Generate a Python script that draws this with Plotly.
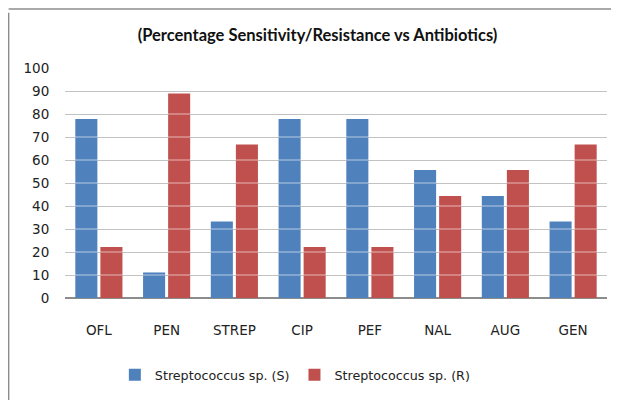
import plotly.graph_objects as go

CATEGORIES = ["OFL", "PEN", "STREP", "CIP", "PEF", "NAL", "AUG", "GEN"]
SENSITIVE = [77.8, 11.1, 33.3, 77.8, 77.8, 55.6, 44.4, 33.3]
RESISTANT = [22.2, 88.9, 66.7, 22.2, 22.2, 44.4, 55.6, 66.7]
Y_TICKS = list(range(0, 101, 10))

BLUE = "#4F81BD"
RED = "#C0504D"
FONT = "'DejaVu Sans', sans-serif"

fig = go.Figure()
fig.add_trace(go.Bar(x=CATEGORIES, y=SENSITIVE, name="Streptococcus sp. (S)",
                     marker=dict(color=BLUE, line_width=0)))
fig.add_trace(go.Bar(x=CATEGORIES, y=RESISTANT, name="Streptococcus sp. (R)",
                     marker=dict(color=RED, line_width=0)))

# gridlines show faintly through the bars in the original
for v in Y_TICKS[1:-1]:
    fig.add_shape(type="line", xref="paper", x0=0, x1=1, y0=v, y1=v,
                  line=dict(color="rgba(255,255,255,0.6)", width=1), layer="above")

# page border (top and left edges), kept just inside the figure
fig.add_shape(type="line", xref="paper", yref="paper", x0=-0.104, x1=1.05,
              y0=1.257, y1=1.257, line=dict(color="#8c8c8c", width=1.5))
fig.add_shape(type="line", xref="paper", yref="paper", x0=-0.104, x1=-0.104,
              y0=1.24, y1=-0.5, line=dict(color="#8c8c8c", width=1.5))

# the page body adds an 8px offset, so margins are shifted to compensate
fig.update_layout(
    width=619, height=400,
    paper_bgcolor="white", plot_bgcolor="white",
    font=dict(family=FONT, size=13.5, color="#222222"),
    margin=dict(l=57, r=20, t=60, b=110),
    title=dict(text="<b>(Percentage Sensitivity/Resistance vs Antibiotics)</b>",
               x=0.5, xanchor="center", y=0.932, yanchor="middle",
               font=dict(family="Lato, sans-serif", size=16.5, color="#111111")),
    barmode="group", bargap=0.26, bargroupgap=0.12,
    showlegend=True,
    legend=dict(orientation="h", x=0.425, xanchor="center", y=-0.335, yanchor="middle",
                font=dict(size=12.7), tracegroupgap=0),
    xaxis=dict(showgrid=False, showline=False, ticks="outside", ticklen=20,
               tickcolor="rgba(0,0,0,0)", tickfont=dict(size=13.5)),
    yaxis=dict(range=[0, 100], tickvals=Y_TICKS, showgrid=True, gridcolor="#a8a8a8",
               gridwidth=1, zeroline=True, zerolinecolor="#8c8c8c", zerolinewidth=1.5,
               showline=False, ticks="outside", ticklen=12, tickcolor="rgba(0,0,0,0)",
               tickfont=dict(size=13.5)),
)

fig.write_html("out.html")
